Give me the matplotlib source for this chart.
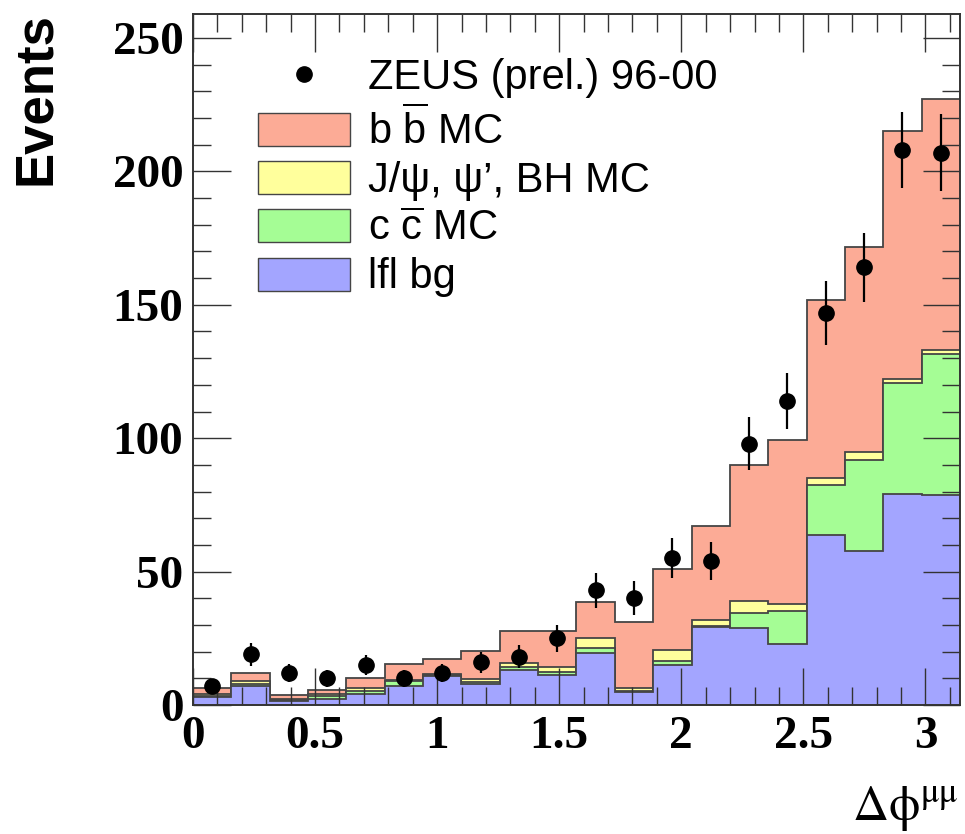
import numpy as np
import matplotlib.pyplot as plt
from matplotlib.patches import Patch
from matplotlib.lines import Line2D
from matplotlib.ticker import MultipleLocator, FuncFormatter

plt.rcParams['font.family'] = ['Liberation Sans', 'DejaVu Sans']
plt.rcParams['mathtext.fontset'] = 'custom'
plt.rcParams['mathtext.rm'] = 'Liberation Sans'

# delta phi(mu mu), 20 bins from 0 to pi
n_bins = 20
phi_max = np.pi

data_events = [7, 19, 12, 10, 15, 10, 12, 16, 18, 25,
               43, 40, 55, 54, 98, 114, 147, 164, 208, 207]
data_err = [2.6, 4.4, 3.5, 3.2, 3.9, 3.2, 3.5, 4.0, 4.3, 5.0,
            6.5, 6.3, 7.5, 7.2, 9.8, 10.6, 12.1, 12.8, 14.4, 14.4]

# MC components (stacked bottom -> top)
lfl_bg = [3.0, 7.0, 1.4, 2.3, 4.2, 7.3, 10.7, 7.7, 13.2, 11.1,
          19.5, 4.8, 14.8, 29.2, 28.9, 22.9, 63.9, 57.9, 79.2, 78.6]
ccbar_mc = [0.5, 1.0, 0.4, 0.9, 1.2, 1.6, 0.5, 0.8, 1.2, 1.4,
            2.0, 0.4, 1.5, 0.4, 5.7, 12.5, 18.4, 34.0, 41.5, 53.1]
jpsi_bh_mc = [0.5, 1.0, 0.4, 1.0, 0.8, 0.4, 0.5, 1.2, 1.4, 1.9,
              3.5, 1.1, 4.4, 2.1, 4.2, 2.3, 2.7, 2.9, 1.5, 1.5]
bbbar_mc = [2.3, 2.9, 1.4, 1.5, 4.0, 5.9, 5.6, 10.7, 11.8, 13.2,
            13.5, 24.8, 30.1, 35.5, 51.0, 61.5, 66.7, 76.9, 93.0, 94.1]

labels = ['lfl bg', r'c $\overline{\mathrm{c}}$ MC', 'J/\u03c8, \u03c8\u2019, BH MC',
          r'b $\overline{\mathrm{b}}$ MC']
colors = ['#a3a5ff', '#a5fd95', '#ffff9c', '#fcab96']
line_col = '#454545'

edges = np.linspace(0, phi_max, n_bins + 1)
centers = 0.5 * (edges[:-1] + edges[1:])
stack = np.cumsum([lfl_bg, ccbar_mc, jpsi_bh_mc, bbbar_mc], axis=0)

fig = plt.figure(figsize=(9.65, 8.34), dpi=100)
ax = fig.add_axes([0.2, 0.1547, 0.7948, 0.8285])

for i in reversed(range(4)):
    ax.stairs(stack[i], edges, baseline=0, fill=True, color=colors[i], lw=0)
    ax.stairs(stack[i], edges, baseline=None, color=line_col, lw=1.3)

ax.errorbar(centers, data_events, yerr=data_err, fmt='o', color='black',
            markersize=11, elinewidth=1.6, capsize=0, zorder=5)

ax.set_xlim(0, phi_max)
ax.set_ylim(0, 259)
ax.xaxis.set_major_locator(MultipleLocator(0.5))
ax.xaxis.set_minor_locator(MultipleLocator(0.1))
ax.yaxis.set_major_locator(MultipleLocator(50))
ax.yaxis.set_minor_locator(MultipleLocator(10))
ax.xaxis.set_major_formatter(FuncFormatter(lambda v, p: f'{v:g}'))
ax.tick_params(which='both', direction='in', top=True, right=True, color='#333333', width=1.0)
ax.tick_params(which='major', length=27)
ax.tick_params(which='minor', length=13)
ax.tick_params(axis='x', pad=8)
ax.tick_params(axis='y', pad=7)
for lab in ax.get_xticklabels() + ax.get_yticklabels():
    lab.set_fontfamily('Liberation Serif')
    lab.set_fontweight('bold')
    lab.set_fontsize(34)
for sp in ax.spines.values():
    sp.set_color('#333333')
    sp.set_linewidth(1.4)

fig.text(0.037, 0.986, 'Events', rotation=90, ha='center', va='top',
         fontsize=38, fontweight='bold')
fig.text(0.993, 0.0168, r'$\Delta\mathrm{\phi}^{\mathrm{\mu\mu}}$', ha='right', va='baseline',
         fontsize=36, math_fontfamily='stix')

handles = [Line2D([], [], marker='o', ls='none', color='black', markersize=11)]
handles += [Patch(facecolor=colors[i], edgecolor=line_col, lw=1.0) for i in reversed(range(4))]
leg_labels = ['ZEUS (prel.) 96-00'] + labels[::-1]
ax.legend(handles, leg_labels, loc='upper left', bbox_to_anchor=(0.0847, 0.936),
          frameon=False, fontsize=30, handlelength=2.2, handleheight=0.84,
          handletextpad=0.45, labelspacing=0.2, borderpad=0, borderaxespad=0)

fig.savefig('out.png', dpi=100)
